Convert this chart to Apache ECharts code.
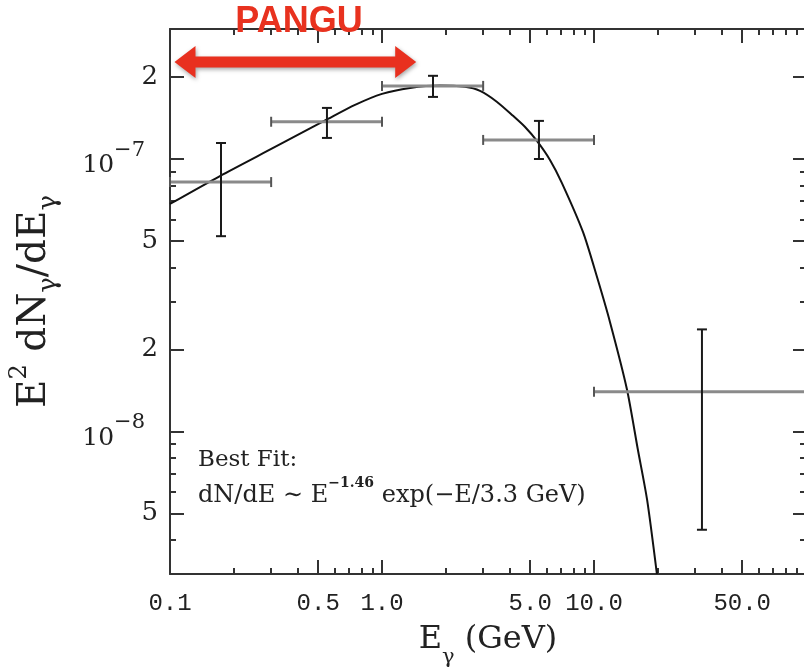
<!DOCTYPE html>
<html><head><meta charset="utf-8">
<script src="https://cdn.jsdelivr.net/npm/echarts@6/dist/echarts.min.js"></script>
<style>html,body{margin:0;padding:0;background:#fff}#c{width:804px;height:667px}</style>
</head><body><div id="c"></div>
<script>
// axis ranges and ticks
const xRange = [0.1, 100];
const yRange = [3e-9, 3e-7];
const xMajorTicks = [0.5, 1, 5, 10, 50];
const xMinorTicks = [0.2, 0.3, 0.4, 0.6, 0.7, 0.8, 0.9, 2, 3, 4, 6, 7, 8, 9, 20, 30, 40, 60, 70, 80, 90];
const xLabelValues = [0.1, 0.5, 1, 5, 10, 50];
const xTickLabels = ['0.1', '0.5', '1.0', '5.0', '10.0', '50.0'];
const yMajorTicks = [5e-9, 1e-8, 2e-8, 5e-8, 1e-7, 2e-7];
const yMinorTicks = [4e-9, 6e-9, 7e-9, 8e-9, 9e-9, 3e-8, 4e-8, 6e-8, 7e-8, 8e-8, 9e-8];
const yLabelValues = [5e-9, 1e-8, 2e-8, 5e-8, 1e-7, 2e-7];
const yTickLabels = ['5', '10^−8', '2', '5', '10^−7', '2'];

// measured points with error bars
const pointE = [0.174, 0.55, 1.74, 5.5, 32.3];
const pointFlux = [8.23e-8, 1.37e-7, 1.855e-7, 1.175e-7, 1.40e-8];
const binLow = [0.1, 0.3, 1.0, 3.0, 10];
const binHigh = [0.3, 1.0, 3.0, 10, 100];
const fluxLow = [5.21e-8, 1.195e-7, 1.69e-7, 1.0e-7, 4.36e-9];
const fluxHigh = [1.145e-7, 1.54e-7, 2.02e-7, 1.38e-7, 2.37e-8];

// best-fit curve
const fitE = [0.1, 0.172, 0.313, 0.556, 0.746, 1.0, 1.356, 1.877, 2.46, 2.90, 3.49, 4.15, 4.73, 5.38, 6.2, 7.06, 8.87, 10.3, 11.9, 14.3, 16.1, 17.8, 19.8];
const fitFlux = [6.84e-8, 8.66e-8, 1.107e-7, 1.403e-7, 1.58e-7, 1.734e-7, 1.824e-7, 1.862e-7, 1.84e-7, 1.778e-7, 1.62e-7, 1.44e-7, 1.31e-7, 1.165e-7, 9.92e-8, 8.16e-8, 5.40e-8, 3.72e-8, 2.52e-8, 1.43e-8, 8.59e-9, 5.62e-9, 3.0e-9];

// PANGU range arrow
const arrowE = [0.105, 1.45];
const arrowFlux = 2.27e-7;

const frameColor = '#333';
const chart = echarts.init(document.getElementById('c'));

function idxOf(arr, v) {
  return arr.findIndex(t => Math.abs(Math.log10(t) - Math.log10(v)) < 1e-6);
}
function fmtX(v) { const i = idxOf(xLabelValues, v); return i < 0 ? '' : xTickLabels[i]; }
function fmtY(v) {
  const i = idxOf(yLabelValues, v);
  if (i < 0) return '';
  const s = yTickLabels[i];
  if (s.indexOf('^') >= 0) { const p = s.split('^'); return '{t|' + p[0] + '}{e|' + p[1] + '}{p|}'; }
  return '{d|' + s + '}';
}

function xAx(pos, ticks, len, labels, extra) {
  return Object.assign({
    type: 'log', logBase: 10, min: xRange[0], max: xRange[1], position: pos,
    axisLine: { show: !!labels || pos === 'top' && len > 10, onZero: false, lineStyle: { color: frameColor, width: 2 } },
    axisTick: { show: true, inside: true, length: len, customValues: ticks, lineStyle: { color: frameColor, width: 2 } },
    axisLabel: labels ? { show: true, customValues: xLabelValues, formatter: fmtX, fontFamily: 'Liberation Mono', fontSize: 24, color: '#222', margin: 18 } : { show: false },
    splitLine: { show: false }, minorTick: { show: false }, minorSplitLine: { show: false }
  }, extra || {});
}
function yAx(pos, ticks, len, labels, extra) {
  return Object.assign({
    type: 'log', logBase: 10, min: yRange[0], max: yRange[1], position: pos,
    axisLine: { show: !!labels || pos === 'right' && len > 10, onZero: false, lineStyle: { color: frameColor, width: 2 } },
    axisTick: { show: true, inside: true, length: len, customValues: ticks, lineStyle: { color: frameColor, width: 2 } },
    axisLabel: labels ? {
      show: true, customValues: yLabelValues, formatter: fmtY, margin: 12, color: '#222',
      rich: {
        t: { fontFamily: 'DejaVu Serif', fontSize: 25, color: '#222', lineHeight: 38, verticalAlign: 'bottom' },
        e: { fontFamily: 'DejaVu Serif', fontSize: 21, color: '#222', lineHeight: 38, verticalAlign: 'top' },
        p: { width: 13 },
        d: { fontFamily: 'DejaVu Serif', fontSize: 26, color: '#222' }
      }
    } : { show: false },
    splitLine: { show: false }, minorTick: { show: false }, minorSplitLine: { show: false }
  }, extra || {});
}

const errData = pointE.map((e, i) => [e, pointFlux[i], binLow[i], binHigh[i], fluxLow[i], fluxHigh[i]]);

const option = {
  animation: false,
  backgroundColor: '#fff',
  grid: { left: 170, top: 29, width: 636, height: 545, containLabel: false, outerBoundsMode: 'none' },
  xAxis: [
    xAx('bottom', xMajorTicks, 14, true, {
      name: '{m|E}{s|γ}{m| (GeV)}', nameLocation: 'middle', nameGap: 50,
      nameTextStyle: { rich: {
        m: { fontFamily: 'DejaVu Serif', fontSize: 32, color: '#222', lineHeight: 44, verticalAlign: 'top' },
        s: { fontFamily: 'DejaVu Serif', fontSize: 21, color: '#222', lineHeight: 44, verticalAlign: 'bottom' } } }
    }),
    xAx('bottom', xMinorTicks, 6, false),
    xAx('top', xMajorTicks, 14, false),
    xAx('top', xMinorTicks, 6, false)
  ],
  yAxis: [
    yAx('left', yMajorTicks, 14, true, {
      name: '{m|E}{u|2}{m| dN}{s|γ}{m|/dE}{s|γ}', nameLocation: 'middle', nameGap: 108, nameRotate: 90,
      nameTextStyle: { rich: {
        m: { fontFamily: 'DejaVu Serif', fontSize: 39, color: '#222', lineHeight: 54, verticalAlign: 'middle' },
        u: { fontFamily: 'DejaVu Serif', fontSize: 24, color: '#222', lineHeight: 54, verticalAlign: 'top' },
        s: { fontFamily: 'DejaVu Serif', fontSize: 26, color: '#222', lineHeight: 54, verticalAlign: 'bottom' } } }
    }),
    yAx('left', yMinorTicks, 6, false),
    yAx('right', yMajorTicks, 13, false),
    yAx('right', yMinorTicks, 6, false)
  ],
  graphic: [
    { type: 'text', x: 299, y: 22, z: 100, style: { text: 'PANGU', font: 'bold 36px "Liberation Sans"', fill: '#e8321f', align: 'center', verticalAlign: 'middle' } },
    { type: 'text', x: 198, y: 449, z: 100, style: { text: 'Best Fit:', font: '23px "DejaVu Serif"', fill: '#222' } },
    { type: 'text', x: 198, y: 476, z: 100, style: {
      text: '{m|dN/dE ∼ E}{e|−1.46}{m| exp(−E/3.3 GeV)}',
      rich: {
        m: { fontFamily: 'DejaVu Serif', fontSize: 24, fill: '#222', lineHeight: 32, verticalAlign: 'bottom' },
        e: { fontFamily: 'DejaVu Serif', fontSize: 14, fill: '#222', fontWeight: 'bold', lineHeight: 32, verticalAlign: 'top' }
      } } }
  ],
  series: [
    {
      type: 'line', xAxisIndex: 0, yAxisIndex: 0, showSymbol: false, smooth: 0.25, z: 3,
      lineStyle: { color: '#111', width: 2 },
      data: fitE.map((e, i) => [e, fitFlux[i]])
    },
    {
      type: 'custom', xAxisIndex: 0, yAxisIndex: 0, z: 4,
      encode: { x: [0, 2, 3], y: [1, 4, 5] },
      data: errData,
      renderItem: function (params, api) {
        const x = api.value(0), y = api.value(1);
        const l = api.coord([api.value(2), y]), r = api.coord([api.value(3), y]);
        const b = api.coord([x, api.value(4)]), t = api.coord([x, api.value(5)]);
        const gray = { stroke: '#8a8a8a', lineWidth: 3 };
        const capG = { stroke: '#555', lineWidth: 2 };
        const blk = { stroke: '#1a1a1a', lineWidth: 2 };
        return { type: 'group', children: [
          { type: 'line', shape: { x1: l[0], y1: l[1], x2: r[0], y2: r[1] }, style: gray },
          { type: 'line', shape: { x1: l[0], y1: l[1] - 5, x2: l[0], y2: l[1] + 5 }, style: capG },
          { type: 'line', shape: { x1: r[0], y1: r[1] - 5, x2: r[0], y2: r[1] + 5 }, style: capG },
          { type: 'line', shape: { x1: t[0], y1: t[1], x2: b[0], y2: b[1] }, style: blk },
          { type: 'line', shape: { x1: t[0] - 5, y1: t[1], x2: t[0] + 5, y2: t[1] }, style: blk },
          { type: 'line', shape: { x1: b[0] - 5, y1: b[1], x2: b[0] + 5, y2: b[1] }, style: blk }
        ] };
      }
    },
    {
      type: 'custom', xAxisIndex: 0, yAxisIndex: 0, z: 10, clip: false,
      data: [[arrowE[0], arrowFlux, arrowE[1]]],
      renderItem: function (params, api) {
        const p1 = api.coord([api.value(0), api.value(1)]);
        const p2 = api.coord([api.value(2), api.value(1)]);
        const y = p1[1], hl = 21, hh = 16, sh = 5.5;
        const pts = [
          [p1[0], y], [p1[0] + hl, y - hh], [p1[0] + hl, y - sh], [p2[0] - hl, y - sh], [p2[0] - hl, y - hh],
          [p2[0], y], [p2[0] - hl, y + hh], [p2[0] - hl, y + sh], [p1[0] + hl, y + sh], [p1[0] + hl, y + hh]
        ];
        return { type: 'polygon', shape: { points: pts },
          style: { fill: '#e8301f', shadowBlur: 4, shadowColor: 'rgba(0,0,0,0.35)', shadowOffsetX: 1, shadowOffsetY: 2 } };
      }
    }
  ]
};
chart.setOption(option);
</script></body></html>
